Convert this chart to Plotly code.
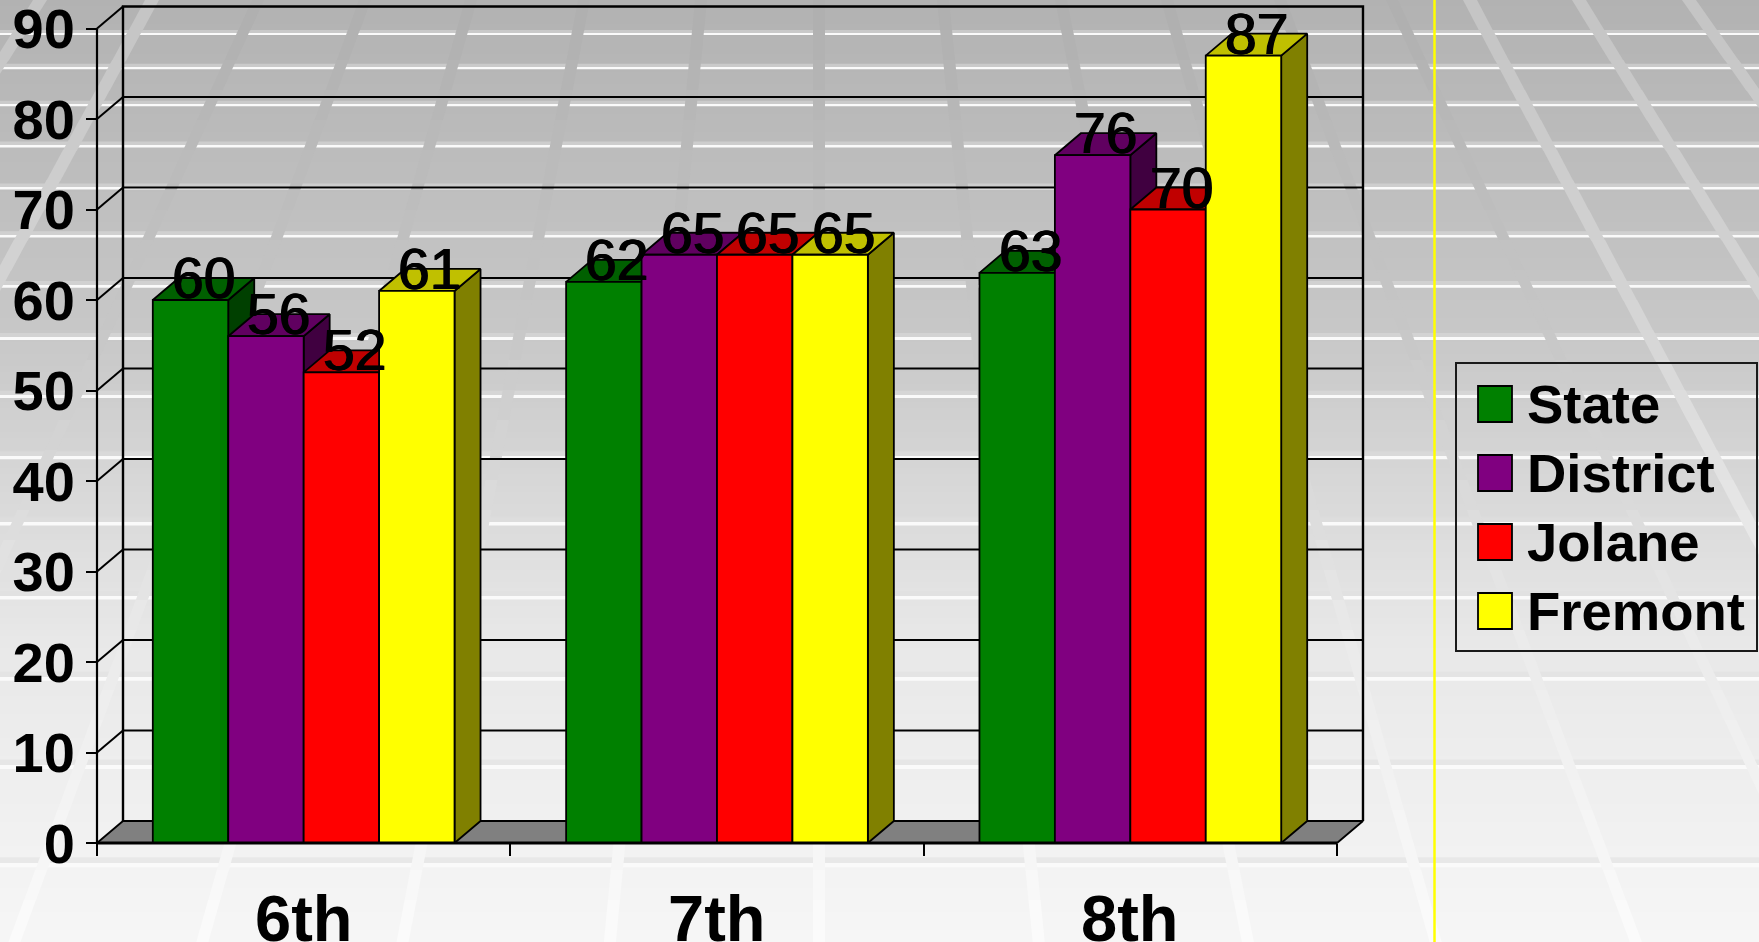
import plotly.graph_objects as go

# ---------------- data ----------------
categories = ["6th", "7th", "8th"]
series_names = ["State", "District", "Jolane", "Fremont"]
state_scores = [60, 62, 63]
district_scores = [56, 65, 76]
jolane_scores = [52, 65, 70]
fremont_scores = [61, 65, 87]
value_ticks = [0, 10, 20, 30, 40, 50, 60, 70, 80, 90]

series_values = [state_scores, district_scores, jolane_scores, fremont_scores]

# ---------------- styles ----------------
FRONT = ["#008000", "#800080", "#ff0000", "#ffff00"]
TOP = ["#006000", "#600060", "#c00000", "#c0c000"]
SIDE = ["#004000", "#400040", "#800000", "#808000"]
FLOOR = "#808080"
FONT = "Liberation Sans"
LABEL_WEIGHT = "0.7px 0 0 #000, -0.7px 0 0 #000"

W, H = 1759, 942

# pixel geometry of the 3-D box
AX_LEFT = 97        # pixel x of the front-left edge
AX_BOTTOM = 843     # pixel y of value 0 on the front edge
CAT_PX = 413.33     # pixels per category slot
VAL_PX = 9.05       # pixels per value unit
DEPTH_PX = (26, 22) # receding offset of the back wall

DX = DEPTH_PX[0] / CAT_PX
DY = DEPTH_PX[1] / VAL_PX
GROUP = 0.73
BAR_W = GROUP / len(series_names)

dom_left, dom_right = 90, 1372
dom_top, dom_bottom = 0, 850
x_range = [-0.5 - (AX_LEFT - dom_left) / CAT_PX, -0.5 + (dom_right - AX_LEFT) / CAT_PX]
y_range = [-(dom_bottom - AX_BOTTOM) / VAL_PX, (AX_BOTTOM - dom_top) / VAL_PX]


def PX(x):
    return x / W


def PY(y):
    return 1 - y / H


def gray(v):
    v = int(round(max(0, min(255, v))))
    return f"rgb({v},{v},{v})"


# ---------------- slide background ----------------
BG_STOPS = [(0, 178), (340, 200), (640, 232), (942, 246)]


def bg_level(y):
    for (ya, va), (yb, vb) in zip(BG_STOPS, BG_STOPS[1:]):
        if y <= yb:
            return va + (vb - va) * (y - ya) / (yb - ya)
    return BG_STOPS[-1][1]


shapes = []
STEP = 6
for y in range(0, H, STEP):
    shapes.append(dict(type="rect", xref="paper", yref="paper", layer="below",
                       x0=0, x1=1, y0=PY(y + STEP + 1), y1=PY(y),
                       fillcolor=gray(bg_level(y + STEP / 2)), line=dict(width=0)))

# horizontal bevelled floor stripes
STRIPE_Y = [33, 67, 104, 145, 187, 235, 285, 337, 395, 456, 522, 596, 677, 765, 863]
for y in STRIPE_Y:
    t = y / H
    band = 3 + 3 * t
    white = 2 + 2.5 * t
    b = bg_level(y)
    shapes.append(dict(type="rect", xref="paper", yref="paper", layer="below",
                       x0=0, x1=1, y0=PY(y), y1=PY(y - band),
                       fillcolor=gray((b + 222) / 2), line=dict(width=0)))
    shapes.append(dict(type="rect", xref="paper", yref="paper", layer="below",
                       x0=0, x1=1, y0=PY(y + white), y1=PY(y),
                       fillcolor="rgb(250,250,250)", line=dict(width=0)))

# perspective streaks fanning out from a point above the slide
STREAK_TOP_X = [40, 152, 258, 365, 471, 584, 701, 819, 943, 1061, 1167, 1280, 1392, 1470, 1579, 1689]
FAN_X = 819
FAN_K = 0.00082
SEG = 30
for xt in STREAK_TOP_X:
    slope = (xt - FAN_X) * FAN_K
    outer = xt < 200 or xt > 1420
    w = 14 if outer else 12
    y = 0
    while y < H:
        ya, yb = y, min(H, y + SEG)
        xa, xb = xt + slope * ya, xt + slope * yb
        if max(xa, xb) + w > 0 and min(xa, xb) - w < W:
            ym = (ya + yb) / 2
            t = ym / H
            delta = (18 - 10 * t) if outer else (-3 + 8 * t)
            path = (f"M{PX(xa - w / 2)},{PY(ya)} L{PX(xa + w / 2)},{PY(ya)} "
                    f"L{PX(xb + w / 2)},{PY(yb + 0.6)} L{PX(xb - w / 2)},{PY(yb + 0.6)} Z")
            shapes.append(dict(type="path", xref="paper", yref="paper", layer="below",
                               path=path, fillcolor=gray(bg_level(ym) + delta),
                               line=dict(width=0)))
        y += SEG

# thin yellow rule
shapes.append(dict(type="line", xref="paper", yref="paper", layer="below",
                   x0=PX(1434.5), x1=PX(1434.5), y0=0, y1=1,
                   line=dict(color="#ffff00", width=2.5)))

# ---------------- chart ----------------
fig = go.Figure()


def poly(xs, ys, fill, width=1.8):
    fig.add_trace(go.Scatter(x=xs + [xs[0]], y=ys + [ys[0]], mode="lines", fill="toself",
                             fillcolor=fill, line=dict(color="black", width=width),
                             hoverinfo="skip", showlegend=False))


def lines(xs, ys, width):
    fig.add_trace(go.Scatter(x=xs, y=ys, mode="lines", line=dict(color="black", width=width),
                             hoverinfo="skip", showlegend=False, connectgaps=False))


x_lo, x_hi = -0.5, len(categories) - 0.5
v_top = value_ticks[-1]

# back wall gridlines
gx, gy = [], []
for v in value_ticks[1:-1]:
    gx += [x_lo + DX, x_hi + DX, None]
    gy += [v + DY, v + DY, None]
lines(gx, gy, 2)
lines([x_lo + DX, x_lo + DX, x_hi + DX, x_hi + DX], [DY, v_top + DY, v_top + DY, DY], 2.4)

# side wall connectors
sx, sy = [], []
for v in value_ticks[1:]:
    sx += [x_lo, x_lo + DX, None]
    sy += [v, v + DY, None]
lines(sx, sy, 2)

# floor
poly([x_lo, x_hi, x_hi + DX, x_lo + DX], [0, 0, DY, DY], FLOOR, 1.8)

# front value edge
lines([x_lo, x_lo], [0, v_top], 2.2)

# bars: side, top and front faces, drawn left to right
label_x, label_v = [], []
for i in range(len(categories)):
    for j, vals in enumerate(series_values):
        v = vals[i]
        x0 = i - GROUP / 2 + j * BAR_W
        x1 = x0 + BAR_W
        poly([x1, x1 + DX, x1 + DX, x1], [0, DY, v + DY, v], SIDE[j])
        poly([x0, x1, x1 + DX, x0 + DX], [v, v, v + DY, v + DY], TOP[j])
        poly([x0, x1, x1, x0], [0, 0, v, v], FRONT[j])
        label_x.append((x0 + x1) / 2 + DX / 2)
        label_v.append(v)

# front category edge
lines([x_lo, x_hi], [0, 0], 3)

annotations = []
for x, v in zip(label_x, label_v):
    annotations.append(dict(x=x, y=v, xref="x", yref="y", text=str(v), showarrow=False,
                            xanchor="center", yanchor="bottom", yshift=-12,
                            font=dict(family=FONT, size=57, color="black",
                                      shadow=LABEL_WEIGHT)))

for i, cat in enumerate(categories):
    annotations.append(dict(x=i, y=0, xref="x", yref="y", text=cat, showarrow=False,
                            xanchor="center", yanchor="top", yshift=-37,
                            font=dict(family=FONT, size=65, color="black", weight="bold")))

# ---------------- legend ----------------
LEG_BOX = (1456, 363, 1757, 651)
LEG_ROW_Y = [404, 473, 542, 611]
shapes.append(dict(type="rect", xref="paper", yref="paper", layer="above",
                   x0=PX(LEG_BOX[0]), x1=PX(LEG_BOX[2]), y0=PY(LEG_BOX[3]), y1=PY(LEG_BOX[1]),
                   line=dict(color="#1a1a1a", width=2), fillcolor="rgba(0,0,0,0)"))
for name, color, yc in zip(series_names, FRONT, LEG_ROW_Y):
    shapes.append(dict(type="rect", xref="paper", yref="paper", layer="above",
                       x0=PX(1478), x1=PX(1512), y0=PY(yc + 18), y1=PY(yc - 18),
                       line=dict(color="black", width=1.8), fillcolor=color))
    annotations.append(dict(x=PX(1525), y=PY(yc), xref="paper", yref="paper", text=name,
                            showarrow=False, xanchor="left", yanchor="middle",
                            font=dict(family=FONT, size=54.5, color="black", weight="bold")))

fig.update_layout(
    width=W, height=H,
    margin=dict(l=0, r=0, t=0, b=0, autoexpand=False),
    paper_bgcolor=gray(210),
    plot_bgcolor="rgba(0,0,0,0)",
    showlegend=False,
    shapes=shapes,
    annotations=annotations,
    xaxis=dict(domain=[PX(dom_left), PX(dom_right)], range=x_range,
               anchor="free", position=1 - AX_BOTTOM / H, automargin=False,
               tickmode="array", tickvals=[x_lo + k for k in range(len(categories) + 1)],
               ticks="outside", ticklen=12, tickwidth=1.6, tickcolor="black",
               showticklabels=False, showgrid=False, zeroline=False, showline=False,
               fixedrange=True),
    yaxis=dict(domain=[1 - dom_bottom / H, 1 - dom_top / H], range=y_range,
               anchor="free", position=PX(AX_LEFT), automargin=False,
               tickmode="array", tickvals=value_ticks,
               ticks="outside", ticklen=11, tickwidth=2, tickcolor="black",
               tickfont=dict(family=FONT, size=56, color="black", weight="bold"),
               ticklabelstandoff=0, ticklabeloverflow="allow",
               showgrid=False, zeroline=False, showline=False, fixedrange=True),
)

fig.write_html("out.html")
